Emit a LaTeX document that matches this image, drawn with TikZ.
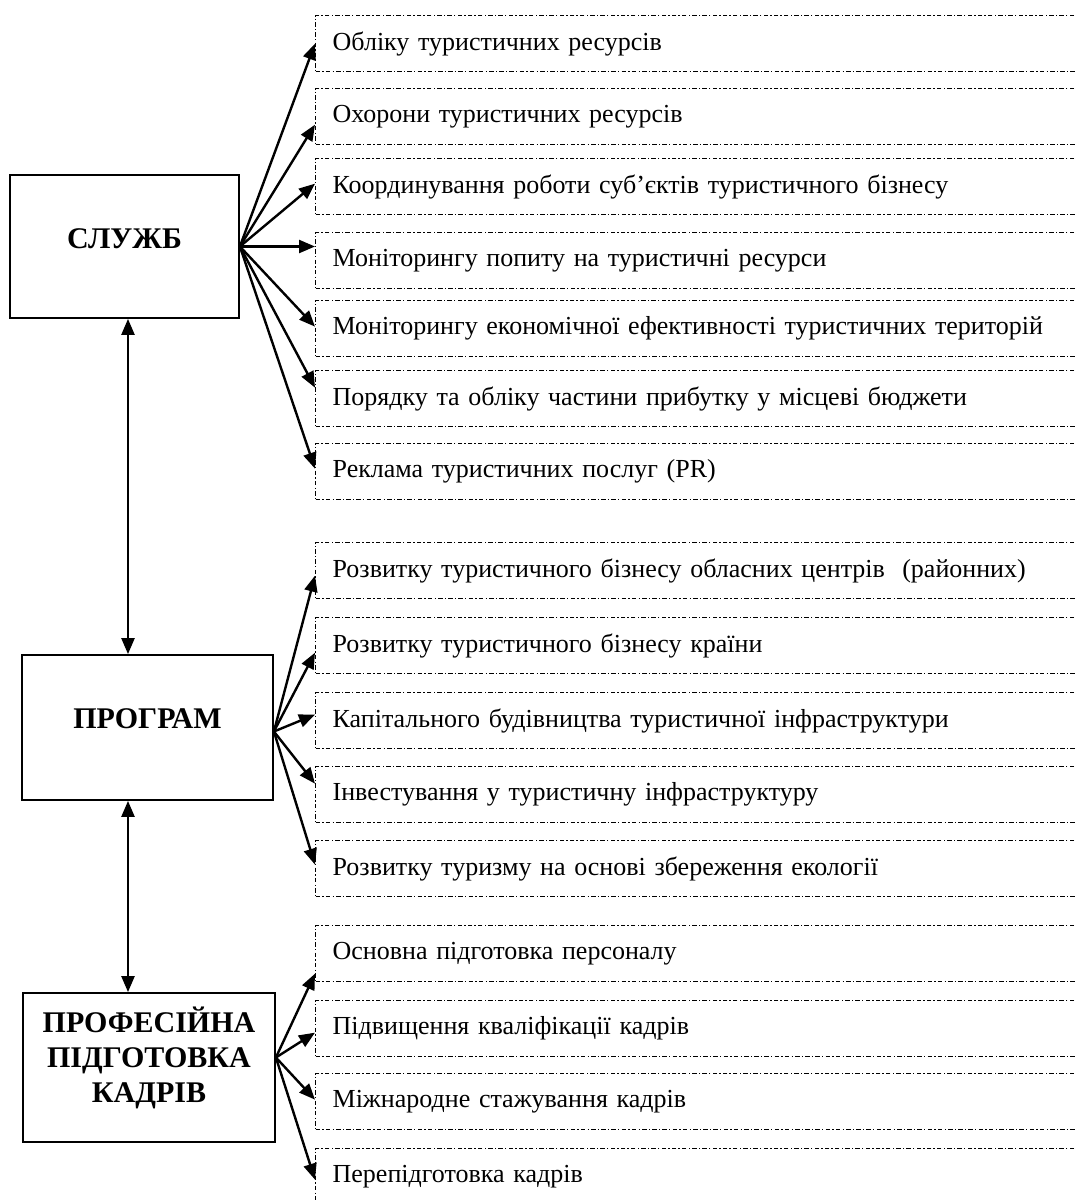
\documentclass[tikz,border=0pt]{standalone}
\usepackage{fontspec}
\setmainfont{Liberation Serif}
\usetikzlibrary{arrows.meta, calc}

\begin{document}
\begin{tikzpicture}[x=1pt, y=-1pt,
		block/.style={draw, line width=1.8pt, inner sep=0pt},
		blocktext/.style={font=\fontsize{30}{35}\selectfont\bfseries, align=center},
		item/.style={draw, line width=1.3pt, dash pattern=on 4.5pt off 2.2pt on 1.3pt off 2.2pt,
			anchor=north west, minimum height=56pt, text width=766pt, inner xsep=17pt,
			align=left, font=\fontsize{26}{30}\selectfont},
		link/.style={-{Triangle[length=16pt, width=13pt]}, line width=2.4pt},
		twoway/.style={{Triangle[length=16pt, width=13pt]}-{Triangle[length=16pt, width=13pt]}, line width=2.4pt}
	]
	\useasboundingbox (0, 0) rectangle (1076, 1200);

	% Main blocks
	\node[block, minimum width=229pt, minimum height=143pt,
		label={[blocktext, yshift=8pt]center:СЛУЖБ}] (sl) at (124.5, 246.5) {};
	\node[block, minimum width=251pt, minimum height=145pt,
		label={[blocktext, yshift=9pt]center:ПРОГРАМ}] (pr) at (147.5, 727.5) {};
	\node[block, minimum width=252pt, minimum height=149pt,
		label={[blocktext, yshift=10pt]center:ПРОФЕСІЙНА\\ПІДГОТОВКА\\КАДРІВ}] (pf) at (149, 1067.5) {};

	% Dash-dot items
	\node[item] (sl1) at (315, 15) {Обліку туристичних ресурсів};
	\node[item] (sl2) at (315, 88) {Охорони туристичних ресурсів};
	\node[item] (sl3) at (315, 158) {Координування роботи суб’єктів туристичного бізнесу};
	\node[item] (sl4) at (315, 232) {Моніторингу попиту на туристичні ресурси};
	\node[item] (sl5) at (315, 300) {Моніторингу економічної ефективності туристичних територій};
	\node[item] (sl6) at (315, 370) {Порядку та обліку частини прибутку у місцеві бюджети};
	\node[item] (sl7) at (315, 443) {Реклама туристичних послуг (PR)};

	\node[item] (pr1) at (315, 542) {Розвитку туристичного бізнесу обласних центрів~ (районних)};
	\node[item] (pr2) at (315, 617) {Розвитку туристичного бізнесу країни};
	\node[item] (pr3) at (315, 692) {Капітального будівництва туристичної інфраструктури};
	\node[item] (pr4) at (315, 766) {Інвестування у туристичну інфраструктуру};
	\node[item] (pr5) at (315, 840) {Розвитку туризму на основі збереження екології};

	\node[item] (pf1) at (315, 925) {Основна підготовка персоналу};
	\node[item] (pf2) at (315, 1000) {Підвищення кваліфікації кадрів};
	\node[item] (pf3) at (315, 1073) {Міжнародне стажування кадрів};
	\node[item] (pf4) at (315, 1148) {Перепідготовка кадрів};

	% Arrows
	\foreach \t/\s in {sl1/0, sl2/-8, sl3/3, sl5/2, sl6/11, sl7/3}
		\draw[link] (sl.east) -- ([yshift=\s pt]\t.west);
	\draw[link] (sl.east) -- (sl.east -| sl4.west);
	\foreach \t/\s in {pr1/-5, pr2/-7, pr3/6, pr4/11, pr5/4}
		\draw[link] ([yshift=-4pt]pr.east) -- ([yshift=\s pt]\t.west);
	\foreach \t/\s in {pf1/-20, pf2/-4, pf3/2, pf4/-3}
		\draw[link] ([yshift=10pt]pf.east) -- ([yshift=\s pt]\t.west);

	\coordinate (axis) at ($(sl.south)+(3.5, 0)$);
	\draw[twoway] (axis) -- (axis |- pr.north);
	\draw[twoway] (pr.south -| axis) -- (axis |- pf.north);

\end{tikzpicture}
\end{document}
